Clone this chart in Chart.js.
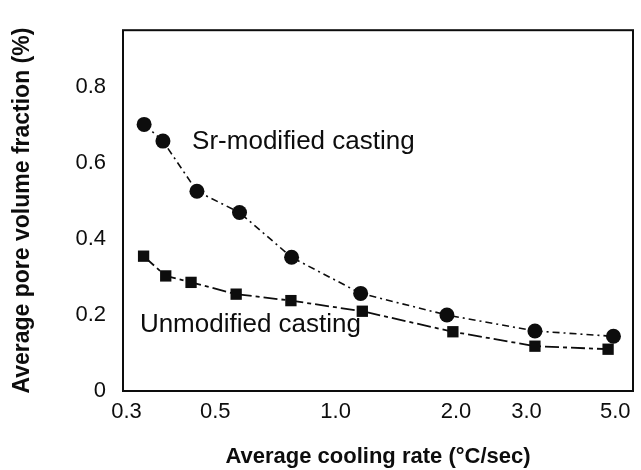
<!DOCTYPE html>
<html><head><meta charset="utf-8">
<script src="https://cdn.jsdelivr.net/npm/chart.js@4/dist/chart.umd.min.js"></script>
<style>html,body{margin:0;padding:0;background:#fff}#wrap{width:641px;height:470px}</style>
</head><body><div id="wrap"><canvas id="c" width="641" height="470"></canvas></div>
<script>
// Data
const srRate = [0.332, 0.370, 0.450, 0.575, 0.776, 1.155, 1.898, 3.15, 4.95];
const srPore = [0.702, 0.658, 0.526, 0.470, 0.352, 0.257, 0.200, 0.158, 0.144];
const unRate = [0.331, 0.376, 0.435, 0.564, 0.773, 1.166, 1.964, 3.15, 4.80];
const unPore = [0.355, 0.303, 0.286, 0.255, 0.238, 0.210, 0.156, 0.118, 0.110];
const xTicks = [0.3, 0.5, 1, 2, 3, 5];
const xTickLabels = ['0.3', '0.5', '1.0', '2.0', '3.0', '5.0'];
const yTicks = [0, 0.2, 0.4, 0.6, 0.8];
const yTickLabels = ['0', '0.2', '0.4', '0.6', '0.8'];
const seriesNames = ['Sr-modified casting', 'Unmodified casting'];
const labelAnchors = [[0.4377, 0.656], [0.324, 0.175]];
const xTitle = 'Average cooling rate (\u00B0C/sec)';
const yTitle = 'Average pore volume fraction (%)';

const FONT = '"Liberation Sans", Arial, Helvetica, sans-serif';
const INK = '#0d0d0d';

const framePlugin = {
  id: 'frame',
  beforeDatasetsDraw(chart) {
    const {ctx, chartArea: a} = chart;
    ctx.save();
    ctx.strokeStyle = INK; ctx.lineWidth = 2;
    ctx.strokeRect(a.left, a.top, a.right - a.left, a.bottom - a.top);
    ctx.restore();
  },
  afterDraw(chart) {
    const {ctx, scales} = chart;
    ctx.save();
    ctx.font = '26px ' + FONT;
    ctx.fillStyle = INK; ctx.textBaseline = 'middle'; ctx.textAlign = 'left';
    seriesNames.forEach((n, i) => {
      ctx.fillText(n, scales.x.getPixelForValue(labelAnchors[i][0]), scales.y.getPixelForValue(labelAnchors[i][1]));
    });
    ctx.restore();
  }
};

new Chart(document.getElementById('c'), {
  type: 'line',
  data: {
    datasets: [
      {
        label: seriesNames[0],
        data: srRate.map((x, i) => ({x, y: srPore[i]})),
        borderColor: INK, backgroundColor: INK,
        borderWidth: 1.6, borderDash: [7, 4, 2, 4],
        pointStyle: 'circle', pointRadius: 7.5, pointBorderWidth: 0,
        tension: 0, clip: false
      },
      {
        label: seriesNames[1],
        data: unRate.map((x, i) => ({x, y: unPore[i]})),
        borderColor: INK, backgroundColor: INK,
        borderWidth: 1.8, borderDash: [14, 4, 4, 4],
        pointStyle: 'rect', pointRadius: 8, pointBorderWidth: 0,
        tension: 0, clip: false
      }
    ]
  },
  options: {
    responsive: false, animation: false, devicePixelRatio: 1,
    layout: {padding: {top: 16, right: 2, left: 0, bottom: 0}},
    plugins: {legend: {display: false}, tooltip: {enabled: false}},
    scales: {
      x: {
        type: 'logarithmic', min: 0.294, max: 5.54,
        afterBuildTicks: s => { s.ticks = xTicks.map(v => ({value: v})); },
        afterFit: s => { s.height = 79; },
        grid: {display: false, drawTicks: false},
        border: {display: false},
        ticks: {
          autoSkip: false, maxRotation: 0, minRotation: 0, padding: 8, color: INK,
          font: {family: FONT, size: 22},
          callback: v => xTickLabels[xTicks.indexOf(v)]
        },
        title: {display: true, text: xTitle, color: INK,
          font: {family: FONT, size: 22, weight: 'bold'}, padding: {top: 0, bottom: 0}}
      },
      y: {
        type: 'linear', min: 0, max: 0.95,
        afterBuildTicks: s => { s.ticks = yTicks.map(v => ({value: v})); },
        afterFit: s => { s.width = 123; },
        grid: {display: false, drawTicks: false},
        border: {display: false},
        ticks: {
          padding: 17, color: INK,
          font: {family: FONT, size: 22},
          callback: v => yTickLabels[yTicks.indexOf(v)]
        },
        title: {display: true, text: yTitle, color: INK,
          font: {family: FONT, size: 23, weight: 'bold'}, padding: {top: 9, bottom: 0}}
      }
    }
  },
  plugins: [framePlugin]
});
</script>
</body></html>
